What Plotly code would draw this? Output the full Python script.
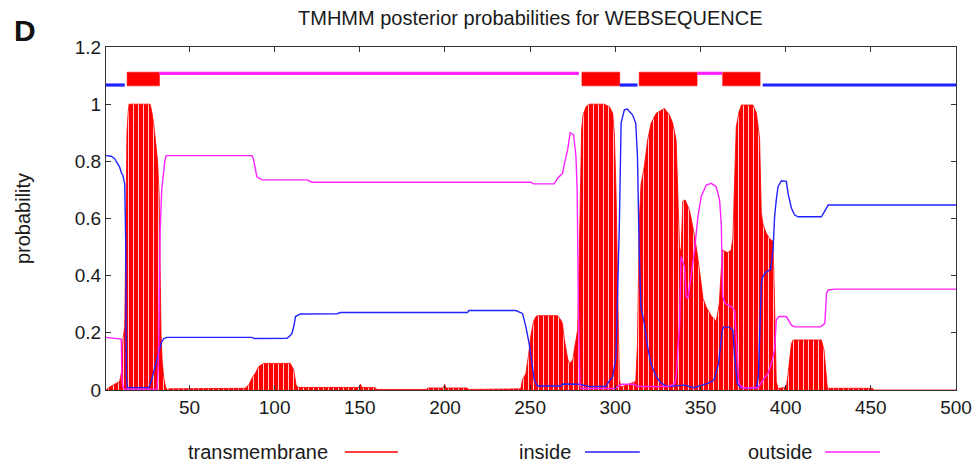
import plotly.graph_objects as go

# ---------------- data ----------------
tm_x = [1, 3, 6, 9, 10, 11, 12, 12.8, 13.3, 14, 14.5, 26.9, 28, 29, 30, 31.3, 32.2, 32.8, 33.3, 34, 35, 36, 37,
        38, 78, 82.8, 85, 87, 88.6, 90.6, 93.5, 109.2, 111.2, 112.6, 114, 149.5, 150.4, 151.3, 159, 160,
        189, 190, 199, 199.8, 200.6, 213, 214, 244.5,
        245.5, 247.5, 249, 250.4, 252, 253.4, 254.5, 266.1, 268, 269, 270, 271, 272, 273, 275, 275.9, 277.9,
        278.6, 279.4, 280.2, 281, 282.8, 284.7, 293.5, 296.5, 298.5, 299.4, 300.4, 301.4, 302.4, 303.4,
        312, 313, 314.1, 315.1, 317, 319, 321, 324, 326.9, 328.8, 331.8, 333.7, 335.7, 336.7, 337.7, 338.6,
        339.6, 341, 342.6, 343.5, 344.5, 346.5, 348.5, 350.4, 351.5, 353.4, 356.3, 359.2, 361, 362, 363,
        366, 368, 369, 370, 371, 372.5, 374, 380.8, 382.8, 384.7, 385.7, 386.7, 388.5, 390.5, 392.6, 393.5,
        394.5, 395.5, 400.4, 401.4, 403.4, 404.5, 421, 422.5, 423.5, 424.5, 451, 452, 500]
tm_y = [0, 0.01, 0.02, 0.03, 0.06, 0.18, 0.22, 0.6, 0.9, 0.97, 1.0, 1.0, 0.97, 0.93, 0.88, 0.8, 0.68, 0.42, 0.2, 0.1, 0.04, 0.01, 0,
        0.004, 0.004, 0.006, 0.02, 0.045, 0.058, 0.082, 0.093, 0.093, 0.07, 0.017, 0.009, 0.009, 0.02, 0.009, 0.008, 0.002,
        0.002, 0.007, 0.007, 0.02, 0.007, 0.007, 0.002, 0.004,
        0.035, 0.058, 0.12, 0.19, 0.24, 0.257, 0.26, 0.26, 0.245, 0.233, 0.18, 0.14, 0.11, 0.093, 0.105, 0.14, 0.21,
        0.4, 0.72, 0.91, 0.96, 0.991, 1.0, 1.0, 0.991, 0.968, 0.898, 0.7, 0.35, 0.035, 0.01,
        0.03, 0.16, 0.595, 0.72, 0.781, 0.875, 0.933, 0.968, 0.98, 0.985, 0.962, 0.933, 0.875, 0.72, 0.5, 0.48,
        0.66, 0.665, 0.645, 0.63, 0.6, 0.54, 0.46, 0.36, 0.32, 0.29, 0.26, 0.24, 0.3, 0.4, 0.49,
        0.48, 0.49, 0.53, 0.75, 0.92, 0.97, 0.997, 0.997, 0.97, 0.88, 0.62, 0.58, 0.55, 0.53, 0.52, 0.3,
        0.03, 0.005, 0.01, 0.055, 0.163, 0.175, 0.175, 0.14, 0.06, 0.006, 0.006, 0, 0]

in_x = [1, 4, 6, 8, 9, 10, 11, 12, 12.6, 12.9, 13.5, 26, 27, 28.8, 30, 31.8, 33.7, 35, 36.7, 86.7, 88, 107.3,
        109, 110.2, 111.5, 112.2, 115.1, 136.7, 138.6, 213.2, 214, 241.6, 245.5, 247.5, 249.4, 250.4, 252.4,
        254.3, 268, 269, 279, 285, 294.5, 295.5, 298.5, 300.4, 302.4, 303.4, 305.3, 307, 310.2, 312, 313, 314,
        315, 317, 319, 321, 324, 327, 331, 340.6, 346, 354.3, 358, 360.6, 362.8, 363.5, 367, 369, 370, 371.6,
        373.6, 382.8, 384, 385.7, 386.5, 389, 391, 392.6, 393.5, 394.5, 395.5, 397.5, 400.4, 401.4, 403.4,
        405.3, 407.3, 421, 425, 500]
in_y = [0.82, 0.818, 0.81, 0.79, 0.78, 0.76, 0.75, 0.72, 0.5, 0.05, 0.008, 0.008, 0.02, 0.058, 0.09, 0.128, 0.169, 0.18, 0.184, 0.184, 0.18, 0.181,
        0.19, 0.198, 0.23, 0.257, 0.266, 0.267, 0.271, 0.271, 0.278, 0.278, 0.268, 0.221, 0.163, 0.117, 0.035,
        0.014, 0.014, 0.021, 0.02, 0.012, 0.012, 0.023, 0.047, 0.117, 0.59, 0.935, 0.98, 0.983, 0.962, 0.933, 0.817, 0.49,
        0.29, 0.233, 0.15, 0.09, 0.047, 0.023, 0.012, 0.017, 0.008, 0.023, 0.035, 0.093, 0.21, 0.22, 0.22, 0.21, 0.117, 0.023,
        0.008, 0.008, 0.047, 0.373, 0.397, 0.415, 0.42, 0.49, 0.606, 0.665, 0.711, 0.732, 0.73, 0.688, 0.636,
        0.612, 0.606, 0.606, 0.647, 0.647]

out_x = [1, 9, 10, 10.3, 11, 12, 31, 31.8, 32.3, 32.8, 33.7, 34.7, 35.5, 36.3, 86.7, 87.5, 88.6, 89.6, 92.6,
         119, 122, 250.4, 252, 264.1, 266.1, 269, 270.4, 272, 273.5, 275.5, 276.9, 277.6, 278.3, 279.2, 280,
         300, 302, 304, 311, 313, 331, 335, 335.7, 337.7, 338.6, 340.6, 341.6, 342.6, 344.5, 346.5, 348.5,
         350.4, 353.4, 356.3, 359.2, 361.2, 362.2, 363, 364.5, 368, 370, 371.6, 372.6, 374.5, 383.7, 386.7,
         389.6, 391.6, 393.5, 394.5, 396, 400.4, 403.4, 405.3, 420.6, 423, 424, 425, 428.8, 500]
out_y = [0.184, 0.18, 0.178, 0.04, 0.01, 0.003, 0.003, 0.1, 0.3, 0.56, 0.7, 0.758, 0.8, 0.82, 0.82, 0.81, 0.77, 0.746, 0.735,
         0.735, 0.727, 0.727, 0.721, 0.721, 0.741, 0.758, 0.799, 0.84, 0.9, 0.892, 0.817, 0.7, 0.3, 0.02, 0.005,
         0.005, 0.015, 0.02, 0.02, 0.012, 0.012, 0.023, 0.047, 0.233, 0.467, 0.432, 0.327, 0.32, 0.4, 0.49, 0.606,
         0.677, 0.717, 0.723, 0.711, 0.665, 0.583, 0.327, 0.303, 0.292, 0.28, 0.117, 0.023, 0.008, 0.008, 0.035,
         0.058, 0.093, 0.14, 0.245, 0.257, 0.257, 0.227, 0.221, 0.221, 0.233, 0.338, 0.35, 0.353, 0.353]

# predicted topology (top bar)
seg_start = [1, 13.4, 32.4, 280.4, 302.6, 314, 348, 363, 386.5]
seg_end = [12, 32.4, 278.6, 302.6, 313, 348, 362.6, 385, 500]
seg_kind = ["inside", "TMhelix", "outside", "TMhelix", "inside", "TMhelix", "outside", "TMhelix", "inside"]

x_ticks = [50, 100, 150, 200, 250, 300, 350, 400, 450, 500]
y_ticks = [0, 0.2, 0.4, 0.6, 0.8, 1.0, 1.2]
y_tick_labels = ["0", "0.2", "0.4", "0.6", "0.8", "1", "1.2"]

# ---------------- style ----------------
RED = "#ff0000"
BLUE = "#2222ff"
MAG = "#ff22ff"
TXT = "#1a1a1a"
FONT = "Liberation Sans, Arial, sans-serif"
Y_IN, Y_OUT, Y_BOX0, Y_BOX1 = 1.067, 1.108, 1.064, 1.112

fig = go.Figure()

# transmembrane probability (impulse-like striped area)
fig.add_trace(go.Scatter(
    x=tm_x, y=tm_y, mode="lines", fill="tozeroy",
    line=dict(color=RED, width=0.8),
    fillcolor=RED,
    fillpattern=dict(shape="|", fgcolor="rgba(255,215,215,0.95)", bgcolor=RED,
                     size=5, solidity=0.2, fillmode="replace"),
    showlegend=False, hoverinfo="skip"))

fig.add_trace(go.Scatter(x=in_x, y=in_y, mode="lines", line=dict(color=BLUE, width=1.4),
                         showlegend=False))
fig.add_trace(go.Scatter(x=out_x, y=out_y, mode="lines", line=dict(color=MAG, width=1.4),
                         showlegend=False))

# topology bar
bx, by, ix, iy, ox, oy = [], [], [], [], [], []
for s, e, k in zip(seg_start, seg_end, seg_kind):
    if k == "TMhelix":
        bx += [s, e, e, s, s, None]
        by += [Y_BOX0, Y_BOX0, Y_BOX1, Y_BOX1, Y_BOX0, None]
    elif k == "inside":
        ix += [s, e, None]
        iy += [Y_IN, Y_IN, None]
    else:
        ox += [s, e, None]
        oy += [Y_OUT, Y_OUT, None]
fig.add_trace(go.Scatter(x=bx, y=by, mode="lines", fill="toself", fillcolor=RED,
                         line=dict(color=RED, width=0.5), showlegend=False))
fig.add_trace(go.Scatter(x=ix, y=iy, mode="lines", line=dict(color=BLUE, width=3.2), showlegend=False))
fig.add_trace(go.Scatter(x=ox, y=oy, mode="lines", line=dict(color=MAG, width=3.2), showlegend=False))

axis_common = dict(showline=True, linecolor="#333333", linewidth=1, mirror="allticks",
                   ticks="inside", ticklen=5, tickcolor="#333333", showgrid=False, zeroline=False,
                   automargin=False, tickfont=dict(family=FONT, size=19, color=TXT))
fig.update_xaxes(range=[1, 500], tickvals=x_ticks, ticktext=[str(v) for v in x_ticks],
                 ticklabeloverflow="allow", **axis_common)
fig.update_yaxes(range=[0, 1.2], tickvals=y_ticks, ticktext=y_tick_labels,
                 title=dict(text="probability", font=dict(family=FONT, size=20, color=TXT), standoff=38),
                 **axis_common)

# legend (gnuplot style: label then sample line)
legend_items = [("transmembrane", RED, 0.2635, 0.281, 0.3435),
                ("inside", BLUE, 0.549, 0.5635, 0.628),
                ("outside", MAG, 0.834, 0.846, 0.9106)]
annotations = [
    dict(text="TMHMM posterior probabilities for WEBSEQUENCE", x=0.499, y=1.0, xref="paper", yref="paper",
         yshift=29, xanchor="center", yanchor="middle", showarrow=False,
         font=dict(family=FONT, size=20, color=TXT)),
    dict(text="<b>D</b>", x=-0.1106, y=1.0, xref="paper", yref="paper", yshift=17,
         xanchor="left", yanchor="middle", showarrow=False,
         font=dict(family=FONT, size=30, color="#111111")),
]
shapes = []
LEG_Y = -0.1808
for name, col, xt, x0, x1 in legend_items:
    annotations.append(dict(text=name, x=xt, y=LEG_Y, xref="paper", yref="paper", xanchor="right",
                            yanchor="middle", showarrow=False,
                            font=dict(family=FONT, size=20, color=TXT)))
    shapes.append(dict(type="line", xref="paper", yref="paper", x0=x0, x1=x1, y0=LEG_Y, y1=LEG_Y,
                       line=dict(color=col, width=1.4)))

fig.update_layout(
    width=977, height=469,
    margin=dict(l=106, r=21, t=47, b=79),
    paper_bgcolor="white", plot_bgcolor="white",
    annotations=annotations, shapes=shapes, showlegend=False,
)

# remove the default 8px page margin so the full 977x469 figure sits at the window origin
post = ("document.body.style.margin='0';"
        "var gd=document.getElementById('{plot_id}');"
        "Plotly.relayout(gd,{width:977,height:469});")
fig.write_html("out.html", post_script=post, config={"displayModeBar": False})
